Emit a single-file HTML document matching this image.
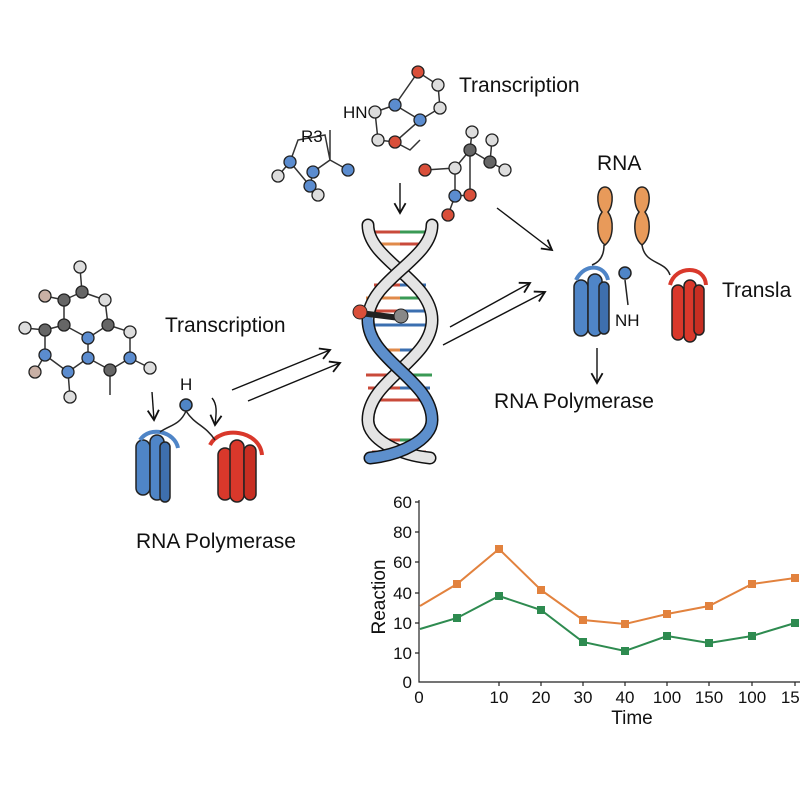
<!DOCTYPE html><html><head><style>body{margin:0;background:#fff}svg{display:block}text{font-family:"Liberation Sans",sans-serif;fill:#111}</style></head><body>
<svg width="800" height="800" viewBox="0 0 800 800" xmlns="http://www.w3.org/2000/svg">
<defs><marker id="ah" markerWidth="10" markerHeight="10" refX="8" refY="5" orient="auto"><path d="M1,1 L8,5 L1,9" fill="none" stroke="#111" stroke-width="1.3"/></marker></defs>
<g stroke="#111" stroke-width="1.4" fill="none" marker-end="url(#ah)">
<path d="M152,392 L154,420"/><path d="M212,398 C218,405 216,415 215,425"/><path d="M232,390 L330,350"/><path d="M248,401 L340,363"/><path d="M400,183 L400,213"/><path d="M497,208 L552,250"/><path d="M450,327 L530,283"/><path d="M443,345 L545,292"/><path d="M597,348 L597,383"/>
</g>
<g stroke="#333" stroke-width="1.5">
<path d="M80,268 L82,292 M82,292 L105,300 M82,292 L64,300 M64,300 L45,296 M64,300 L64,325 M105,300 L108,325 M64,325 L88,338 M108,325 L88,338 M108,325 L130,332 M64,325 L45,330 M45,330 L25,328 M45,330 L45,355 M45,355 L35,372 M45,355 L68,372 M68,372 L70,397 M68,372 L88,358 M88,358 L88,338 M88,358 L110,370 M110,370 L130,358 M130,358 L130,332 M130,358 L150,368 M110,370 L110,395" fill="none"/>
<path d="M290,162 L298,140 L325,135 L330,160 L313,172 M290,162 L278,176 M290,162 L310,186 M313,172 L310,186 M310,186 L318,195 M330,160 L348,170 M330,130 L330,160" fill="none"/>
<path d="M395,105 L418,72 L438,85 L440,108 L420,120 L395,105 M395,105 L375,112 M375,112 L378,140 M378,140 L395,142 M395,142 L420,120 M395,142 L410,150 L420,140" fill="none"/>
<path d="M425,170 L455,168 L470,150 L490,162 L505,170 M470,150 L472,132 M470,150 L470,172 L470,195 M455,168 L455,196 L448,215 M455,196 L470,195 M490,162 L492,140" fill="none"/>
</g>
<g stroke="#222" stroke-width="1.3">
<circle cx="80" cy="267" r="6" fill="#ddd"/><circle cx="82" cy="292" r="6" fill="#666"/><circle cx="105" cy="300" r="6" fill="#ddd"/><circle cx="64" cy="300" r="6" fill="#666"/><circle cx="45" cy="296" r="6" fill="#c9b0a5"/><circle cx="64" cy="325" r="6" fill="#666"/><circle cx="108" cy="325" r="6" fill="#666"/><circle cx="88" cy="338" r="6" fill="#5b8ccf"/><circle cx="130" cy="332" r="6" fill="#ddd"/><circle cx="45" cy="330" r="6" fill="#666"/><circle cx="25" cy="328" r="6" fill="#ddd"/><circle cx="45" cy="355" r="6" fill="#5b8ccf"/><circle cx="35" cy="372" r="6" fill="#c9b0a5"/><circle cx="68" cy="372" r="6" fill="#5b8ccf"/><circle cx="70" cy="397" r="6" fill="#ddd"/><circle cx="88" cy="358" r="6" fill="#5b8ccf"/><circle cx="110" cy="370" r="6" fill="#666"/><circle cx="130" cy="358" r="6" fill="#5b8ccf"/><circle cx="150" cy="368" r="6" fill="#ddd"/>
<circle cx="278" cy="176" r="6" fill="#ddd"/><circle cx="290" cy="162" r="6" fill="#5b8ccf"/><circle cx="310" cy="186" r="6" fill="#5b8ccf"/><circle cx="318" cy="195" r="6" fill="#ddd"/><circle cx="313" cy="172" r="6" fill="#5b8ccf"/><circle cx="348" cy="170" r="6" fill="#5b8ccf"/>
<circle cx="418" cy="72" r="6" fill="#d94f3a"/><circle cx="438" cy="85" r="6" fill="#ddd"/><circle cx="440" cy="108" r="6" fill="#ddd"/><circle cx="420" cy="120" r="6" fill="#5b8ccf"/><circle cx="395" cy="105" r="6" fill="#5b8ccf"/><circle cx="375" cy="112" r="6" fill="#ddd"/><circle cx="378" cy="140" r="6" fill="#ddd"/><circle cx="395" cy="142" r="6" fill="#d94f3a"/>
<circle cx="425" cy="170" r="6" fill="#d94f3a"/><circle cx="455" cy="168" r="6" fill="#ddd"/><circle cx="470" cy="150" r="6" fill="#666"/><circle cx="490" cy="162" r="6" fill="#666"/><circle cx="505" cy="170" r="6" fill="#ddd"/><circle cx="472" cy="132" r="6" fill="#ddd"/><circle cx="470" cy="195" r="6" fill="#d94f3a"/><circle cx="455" cy="196" r="6" fill="#5b8ccf"/><circle cx="448" cy="215" r="6" fill="#d94f3a"/><circle cx="492" cy="140" r="6" fill="#ddd"/>
</g>
<g stroke-width="3">
<path d="M368,232h62M370,244h58M374,285h52M366,298h66M368,311h62M366,375h66M368,388h62M370,400h58M376,440h48M372,452h54" stroke="#c94a3a"/>
<path d="M400,232h30M400,298h32M400,375h32M400,440h26" stroke="#3a9a55"/>
<path d="M400,285h26M400,311h30M400,388h30M372,325h56M374,350h52" stroke="#3b6fb0"/>
<path d="M368,244h32M366,298h34M374,350h26" stroke="#e08a4a"/>
</g>
<g fill="none" stroke-linecap="round">
<path d="M368,225 C368,260 432,280 432,320 C432,360 368,380 368,420 C368,440 400,455 430,458" stroke="#111" stroke-width="13"/>
<path d="M368,225 C368,260 432,280 432,320 C432,360 368,380 368,420 C368,440 400,455 430,458" stroke="#e4e4e4" stroke-width="10"/>
<path d="M432,225 C432,260 368,280 368,320 C368,360 432,380 432,420 C432,440 400,455 370,458" stroke="#111" stroke-width="13"/>
<path d="M432,225 C432,260 368,280 368,320" stroke="#e4e4e4" stroke-width="10"/>
<path d="M368,320 C368,360 432,380 432,420 C432,440 400,455 370,458" stroke="#5d8fcc" stroke-width="10"/>
</g>
<path d="M360,313 L400,318" stroke="#222" stroke-width="6"/><circle cx="360" cy="312" r="7" fill="#d94f3a" stroke="#222"/><circle cx="401" cy="316" r="7" fill="#888" stroke="#222"/>
<g stroke="#222" stroke-width="1.5">
<rect x="136" y="440" width="14" height="55" rx="7" fill="#4f85c7"/><rect x="150" y="435" width="14" height="65" rx="7" fill="#4f85c7"/><rect x="160" y="442" width="10" height="60" rx="5" fill="#3e6fae"/>
<path d="M140,440 C150,425 175,432 178,448" fill="none" stroke="#4f85c7" stroke-width="4"/>
<rect x="218" y="448" width="14" height="52" rx="7" fill="#d9382b"/><rect x="230" y="440" width="14" height="62" rx="7" fill="#d9382b"/><rect x="244" y="445" width="12" height="55" rx="6" fill="#c72e22"/>
<path d="M210,445 C220,425 260,430 262,455" fill="none" stroke="#d9382b" stroke-width="4"/>
<rect x="574" y="280" width="14" height="56" rx="7" fill="#4f85c7"/><rect x="588" y="274" width="14" height="62" rx="7" fill="#4f85c7"/><rect x="599" y="282" width="10" height="52" rx="5" fill="#3e6fae"/>
<path d="M576,280 C585,262 605,265 608,280" fill="none" stroke="#4f85c7" stroke-width="4"/>
<rect x="672" y="285" width="12" height="55" rx="6" fill="#d9382b"/><rect x="684" y="280" width="12" height="62" rx="6" fill="#d9382b"/><rect x="694" y="285" width="10" height="50" rx="5" fill="#c72e22"/>
<path d="M670,285 C675,265 705,265 706,285" fill="none" stroke="#d9382b" stroke-width="4"/>
<path d="M605,187 C596,187 596,205 602,212 C596,220 596,238 605,245 C614,238 614,220 608,212 C614,205 614,187 605,187Z" fill="#e89a5a"/>
<path d="M642,187 C633,187 633,205 639,212 C633,220 633,238 642,245 C651,238 651,220 645,212 C651,205 651,187 642,187Z" fill="#e89a5a"/>
<path d="M604,245 C604,255 600,262 592,265 M642,245 C645,265 665,260 670,275 M625,280 L628,305" fill="none"/>
<circle cx="186" cy="405" r="6" fill="#4f85c7"/><circle cx="625" cy="273" r="6" fill="#4f85c7"/>
<path d="M186,411 C180,425 170,425 160,432 M186,411 C195,425 205,425 215,440" fill="none"/>
</g>
<g font-size="21">
<text x="165" y="332">Transcription</text><text x="136" y="548">RNA Polymerase</text><text x="459" y="92">Transcription</text><text x="494" y="408">RNA Polymerase</text><text x="722" y="297">Transla</text><text x="597" y="170">RNA</text>
</g>
<g font-size="17"><text x="180" y="390">H</text><text x="343" y="118">HN</text><text x="301" y="142">R3</text><text x="615" y="326">NH</text></g>
<g stroke="#222" stroke-width="1.2" fill="none"><path d="M419,500 V682 H800"/><path d="M415,502h4M415,532h4M415,562h4M415,593h4M415,623h4M415,653h4M499,682v4M541,682v4M583,682v4M625,682v4M667,682v4M709,682v4M752,682v4M795,682v4"/></g>
<g font-size="17" text-anchor="end"><text x="412" y="508">60</text><text x="412" y="538">80</text><text x="412" y="568">60</text><text x="412" y="599">40</text><text x="412" y="629">10</text><text x="412" y="659">10</text><text x="412" y="688">0</text></g>
<g font-size="17" text-anchor="middle"><text x="419" y="703">0</text><text x="499" y="703">10</text><text x="541" y="703">20</text><text x="583" y="703">30</text><text x="625" y="703">40</text><text x="667" y="703">100</text><text x="709" y="703">150</text><text x="752" y="703">100</text><text x="795" y="703">150</text><text x="632" y="724" font-size="19">Time</text></g>
<text transform="translate(385,597) rotate(-90)" font-size="19" text-anchor="middle">Reaction</text>
<polyline points="420,606 457,584 499,549 541,590 583,620 625,624 667,614 709,606 752,584 795,578" fill="none" stroke="#e2823e" stroke-width="2"/>
<polyline points="420,629 457,618 499,596 541,610 583,642 625,651 667,636 709,643 752,636 795,623" fill="none" stroke="#2e8b50" stroke-width="2"/>
<g fill="#e2823e"><rect x="453" y="580" width="8" height="8"/><rect x="495" y="545" width="8" height="8"/><rect x="537" y="586" width="8" height="8"/><rect x="579" y="616" width="8" height="8"/><rect x="621" y="620" width="8" height="8"/><rect x="663" y="610" width="8" height="8"/><rect x="705" y="602" width="8" height="8"/><rect x="748" y="580" width="8" height="8"/><rect x="791" y="574" width="8" height="8"/></g>
<g fill="#2e8b50"><rect x="453" y="614" width="8" height="8"/><rect x="495" y="592" width="8" height="8"/><rect x="537" y="606" width="8" height="8"/><rect x="579" y="638" width="8" height="8"/><rect x="621" y="647" width="8" height="8"/><rect x="663" y="632" width="8" height="8"/><rect x="705" y="639" width="8" height="8"/><rect x="748" y="632" width="8" height="8"/><rect x="791" y="619" width="8" height="8"/></g>
</svg></body></html>
